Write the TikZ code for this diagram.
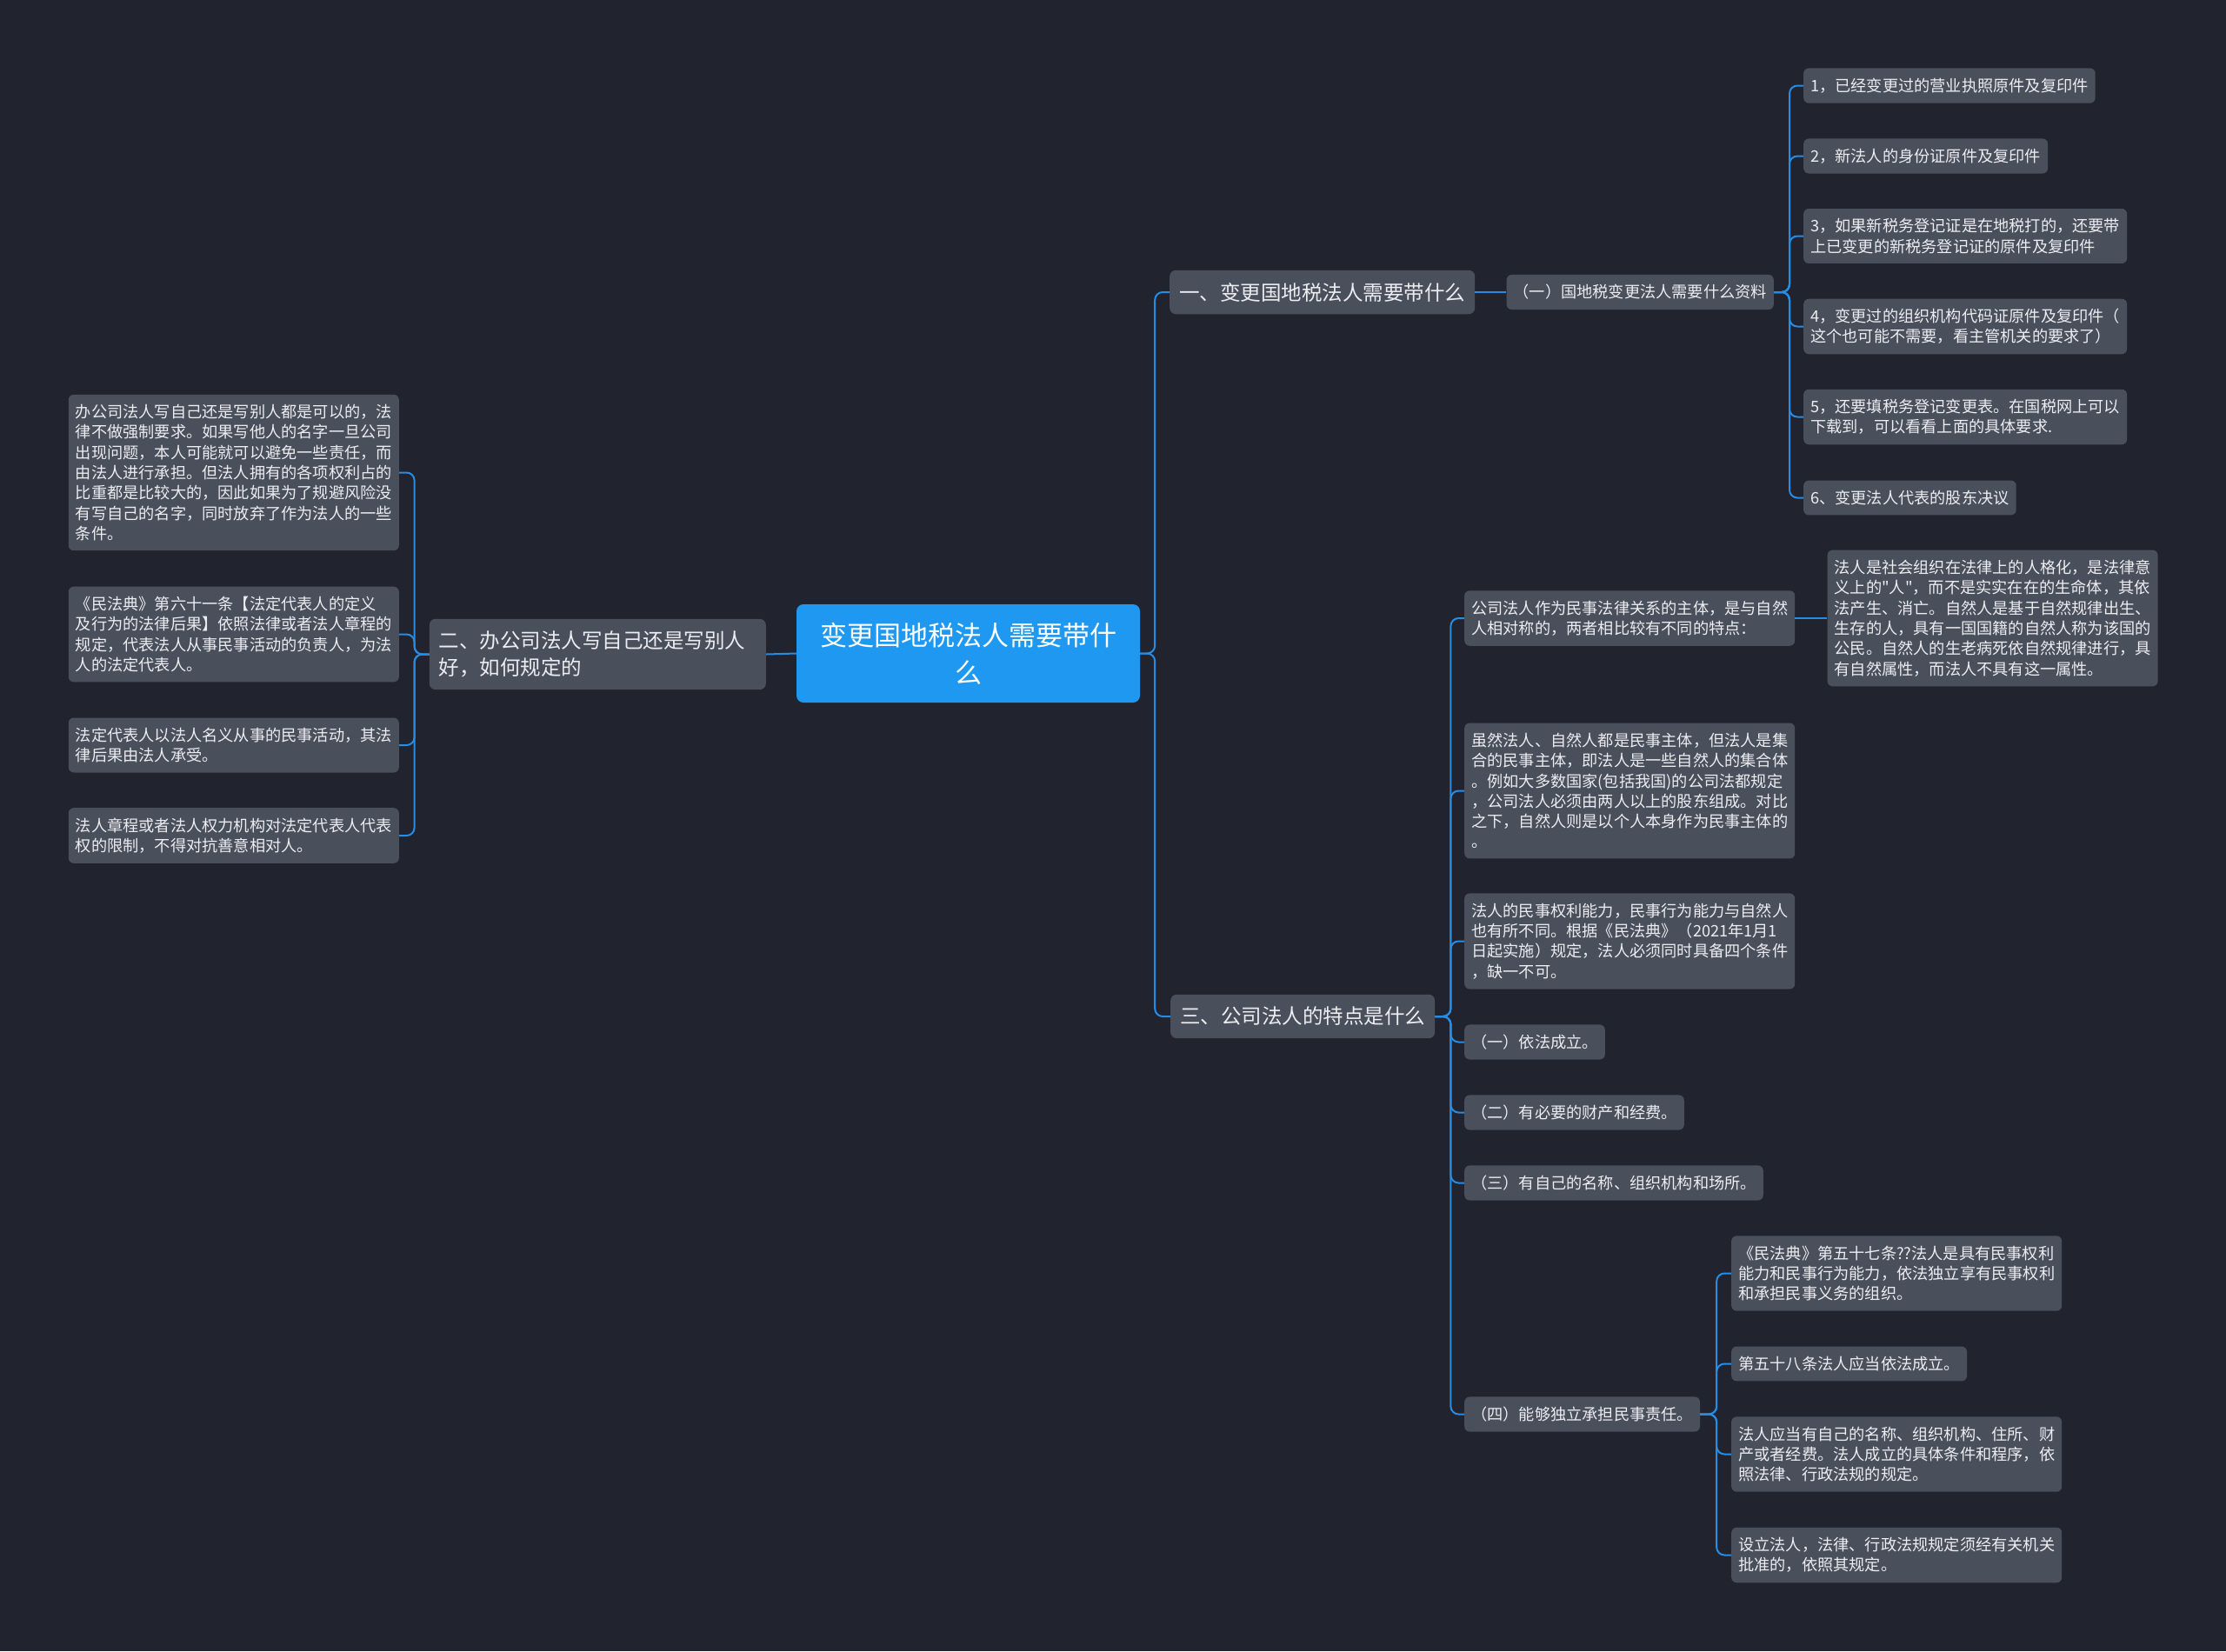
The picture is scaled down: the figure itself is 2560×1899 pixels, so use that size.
\documentclass[tikz,border=0pt]{standalone}
\usepackage{fontspec}
\setmainfont{Noto Sans CJK SC}
\newfontfamily\plainfont{Noto Sans CJK SC}[Ligatures=ResetAll]
\usetikzlibrary{positioning}
\definecolor{mapbg}{RGB}{33,36,47}
\definecolor{mapnode}{RGB}{74,79,92}
\definecolor{mapline}{RGB}{38,140,228}
\definecolor{maproot}{RGB}{30,152,240}
\definecolor{maptext}{RGB}{236,237,241}

\begin{document}
\begin{tikzpicture}[
    x=1pt, y=-1pt,
    link/.style={draw=mapline, line width=2pt, rounded corners=9pt},
    rootbox/.style={rectangle, rounded corners=8pt, fill=maproot, text=white,
                    align=center, minimum width=395pt, minimum height=113pt,
                    font=\fontsize{31}{43}\selectfont},
    mainbox/.style={rectangle, rounded corners=7pt, fill=mapnode, text=maptext,
                    align=left, inner xsep=11pt, inner ysep=14.3pt,
                    font=\fontsize{23.5}{30.4}\selectfont},
    leafbox/.style={rectangle, rounded corners=6pt, fill=mapnode, text=maptext,
                    align=left, inner xsep=8pt, inner ysep=11.4pt,
                    font=\fontsize{18.2}{23.3}\selectfont},
    wide/.style={text width=364pt}
  ]
    \fill[mapbg] (0,0) rectangle (2560,1899);
    \useasboundingbox (0,0) rectangle (2560,1899);

    % centre
    \node[rootbox] (root) at (1113.5,751.5) {变更国地税法人需要带什\\么};

    % branch one
    \node[mainbox, anchor=west] (tax) at (1345,336) {一、变更国地税法人需要带什么};
    \node[leafbox, right=36pt of tax] (docs) {（一）国地税变更法人需要什么资料};
    \node[leafbox, anchor=west] (r1) at (2074,98.5) {1，已经变更过的营业执照原件及复印件};
    \node[leafbox, anchor=west] (r2) at (2074,179.5) {2，新法人的身份证原件及复印件};
    \node[leafbox, anchor=west] (r3) at (2074,271.5)
      {3，如果新税务登记证是在地税打的，还要带\\上已变更的新税务登记证的原件及复印件};
    \node[leafbox, anchor=west] (r4) at (2074,375.5)
      {4，变更过的组织机构代码证原件及复印件（\\这个也可能不需要，看主管机关的要求了）};
    \node[leafbox, anchor=west] (r5) at (2074,479.5)
      {5，还要填税务登记变更表。在国税网上可以\\下载到，可以看看上面的具体要求.};
    \node[leafbox, anchor=west] (r6) at (2074,572.5) {6、变更法人代表的股东决议};

    % branch two
    \node[mainbox, anchor=east, text width=365pt] (write) at (881,752.5)
      {二、办公司法人写自己还是写别人\\好，如何规定的};
    \node[leafbox, wide, anchor=east] (l1) at (459,543.5)
      {办公司法人写自己还是写别人都是可以的，法\\律不做强制要求。如果写他人的名字一旦公司\\出现问题，本人可能就可以避免一些责任，而\\由法人进行承担。但法人拥有的各项权利占的\\比重都是比较大的，因此如果为了规避风险没\\有写自己的名字，同时放弃了作为法人的一些\\条件。};
    \node[leafbox, wide, anchor=east] (l2) at (459,729.5)
      {《民法典》第六十一条【法定代表人的定义\\及行为的法律后果】依照法律或者法人章程的\\规定，代表法人从事民事活动的负责人，为法\\人的法定代表人。};
    \node[leafbox, wide, anchor=east] (l3) at (459,857)
      {法定代表人以法人名义从事的民事活动，其法\\律后果由法人承受。};
    \node[leafbox, wide, anchor=east] (l4) at (459,961)
      {法人章程或者法人权力机构对法定代表人代表\\权的限制，不得对抗善意相对人。};

    % branch three
    \node[mainbox, anchor=west] (trait) at (1346,1169) {三、公司法人的特点是什么};
    \node[leafbox, wide, anchor=west] (c1) at (1684,711)
      {公司法人作为民事法律关系的主体，是与自然\\人相对称的，两者相比较有不同的特点：};
    \node[leafbox, wide, right=37pt of c1] (c1x)
      {法人是社会组织在法律上的人格化，是法律意\\义上的{\plainfont"}人{\plainfont"}，而不是实实在在的生命体，其依\\法产生、消亡。自然人是基于自然规律出生、\\生存的人，具有一国国籍的自然人称为该国的\\公民。自然人的生老病死依自然规律进行，具\\有自然属性，而法人不具有这一属性。};
    \node[leafbox, wide, anchor=west] (c2) at (1684,909.5)
      {虽然法人、自然人都是民事主体，但法人是集\\合的民事主体，即法人是一些自然人的集合体\\。例如大多数国家(包括我国)的公司法都规定\\，公司法人必须由两人以上的股东组成。对比\\之下，自然人则是以个人本身作为民事主体的\\。};
    \node[leafbox, wide, anchor=west] (c3) at (1684,1082.5)
      {法人的民事权利能力，民事行为能力与自然人\\也有所不同。根据《民法典》（2021年1月1\\日起实施）规定，法人必须同时具备四个条件\\，缺一不可。};
    \node[leafbox, anchor=west] (c4) at (1684,1198.5) {（一）依法成立。};
    \node[leafbox, anchor=west] (c5) at (1684,1279.5) {（二）有必要的财产和经费。};
    \node[leafbox, anchor=west] (c6) at (1684,1360.5) {（三）有自己的名称、组织机构和场所。};
    \node[leafbox, anchor=west] (c7) at (1684,1626.5) {（四）能够独立承担民事责任。};
    \node[leafbox, wide, anchor=west] (d1) at (1991,1464.5)
      {《民法典》第五十七条??法人是具有民事权利\\能力和民事行为能力，依法独立享有民事权利\\和承担民事义务的组织。};
    \node[leafbox, anchor=west] (d2) at (1991,1568.5) {第五十八条法人应当依法成立。};
    \node[leafbox, wide, anchor=west] (d3) at (1991,1672.5)
      {法人应当有自己的名称、组织机构、住所、财\\产或者经费。法人成立的具体条件和程序，依\\照法律、行政法规的规定。};
    \node[leafbox, wide, anchor=west] (d4) at (1991,1788.5)
      {设立法人，法律、行政法规规定须经有关机关\\批准的，依照其规定。};

    % connectors
    \draw[link] (root.east) -- ++(17,0) |- (tax.west);
    \draw[link] (root.east) -- ++(17,0) |- (trait.west);
    \draw[link] (root.west) -- (write.east);
    \draw[link] (tax.east) -- (docs.west);
    \foreach \i in {1,...,6}
      \draw[link] (docs.east) -- ++(18,0) |- (r\i.west);
    \foreach \i in {1,...,4}
      \draw[link] (write.west) -- ++(-17,0) |- (l\i.east);
    \foreach \i in {1,...,7}
      \draw[link] (trait.east) -- ++(18,0) |- (c\i.west);
    \draw[link] (c1.east) -- (c1x.west);
    \foreach \i in {1,...,4}
      \draw[link] (c7.east) -- ++(19,0) |- (d\i.west);
\end{tikzpicture}
\end{document}
